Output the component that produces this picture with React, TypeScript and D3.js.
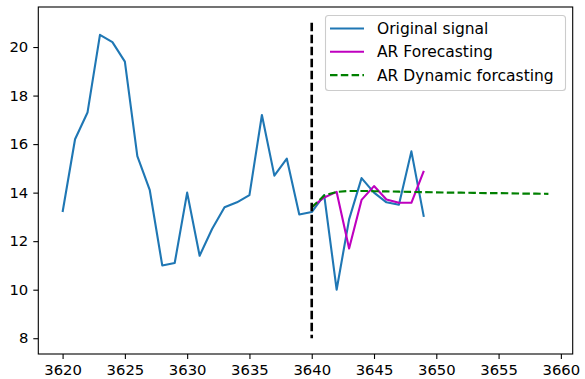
import React, { useEffect, useRef } from 'react';
import * as d3 from 'd3';

// original signal, 3620..3649
const signalX = d3.range(3620, 3650);
const signal = [
  13.2, 16.2, 17.3, 20.5, 20.2, 19.4, 15.5, 14.1, 11.0, 11.1,
  14.0, 11.4, 12.5, 13.4, 13.6, 13.9, 17.2, 14.7, 15.4, 13.1,
  13.2, 13.9, 10.0, 12.9, 14.6, 14.0, 13.6, 13.5, 15.7, 13.0,
];

// one-step AR forecast, 3640..3649
const forecastX = d3.range(3640, 3650);
const forecast = [13.4, 13.8, 14.03, 11.7, 13.7, 14.27, 13.72, 13.58, 13.58, 14.9];

// dynamic AR forecast, 3640..3659
const dynamicX = d3.range(3640, 3660);
const dynamic = [
  13.39, 13.88, 14.03, 14.07, 14.07, 14.06, 14.05, 14.04, 14.03, 14.02,
  14.01, 14.0, 14.0, 13.99, 13.98, 13.98, 13.97, 13.96, 13.96, 13.95,
];

const xTicks = [3620, 3625, 3630, 3635, 3640, 3645, 3650, 3655, 3660];
const yTicks = [8, 10, 12, 14, 16, 18, 20];
const splitAt = 3640;
const splitRange = [8, 21];

const legendItems = [
  { label: 'Original signal', color: '#1f77b4', dash: null },
  { label: 'AR Forecasting', color: '#bf00bf', dash: null },
  { label: 'AR Dynamic forcasting', color: '#008000', dash: '7.5,3.3' },
];

const W = 585;
const H = 379;
const FONT = 'DejaVu Sans, sans-serif';

const App = () => {
  const ref = useRef<SVGSVGElement>(null);

  useEffect(() => {
    const svg = d3.select(ref.current);
    svg.selectAll('*').remove();

    const left = 38.3, right = 572.7, top = 7, bottom = 354;
    const x = d3.scaleLinear().domain([3618.05, 3660.95]).range([left, right]);
    const y = d3.scaleLinear().domain([7.35, 21.65]).range([bottom, top]);

    const line = (xs: number[], ys: number[]) =>
      d3.line<number>().x((_, i) => x(xs[i])).y(d => y(d))(ys);

    svg.append('rect').attr('width', W).attr('height', H).attr('fill', '#fff');

    svg.append('path')
      .attr('d', line(signalX, signal))
      .attr('fill', 'none')
      .attr('stroke', '#1f77b4')
      .attr('stroke-width', 2.1)
      .attr('stroke-linejoin', 'round');

    svg.append('path')
      .attr('d', line(forecastX, forecast))
      .attr('fill', 'none')
      .attr('stroke', '#bf00bf')
      .attr('stroke-width', 2.1)
      .attr('stroke-linejoin', 'round');

    svg.append('path')
      .attr('d', line(dynamicX, dynamic))
      .attr('fill', 'none')
      .attr('stroke', '#008000')
      .attr('stroke-width', 2.1)
      .attr('stroke-dasharray', '7.5,3.3');

    svg.append('line')
      .attr('x1', x(splitAt)).attr('x2', x(splitAt))
      .attr('y1', y(splitRange[1])).attr('y2', y(splitRange[0]))
      .attr('stroke', '#000')
      .attr('stroke-width', 2.6)
      .attr('stroke-dasharray', '8.5,3.5');

    // axes
    const xAxis = svg.append('g')
      .attr('transform', `translate(0,${bottom})`)
      .call(d3.axisBottom(x).tickValues(xTicks).tickSize(5).tickPadding(5).tickFormat(d3.format('d')));
    const yAxis = svg.append('g')
      .attr('transform', `translate(${left},0)`)
      .call(d3.axisLeft(y).tickValues(yTicks).tickSize(5).tickPadding(5).tickFormat(d3.format('d')));
    [xAxis, yAxis].forEach(a => {
      a.select('.domain').remove();
      a.selectAll('line').attr('stroke', '#000').attr('stroke-width', 1.1);
      a.selectAll('text').attr('fill', '#000').style('font-family', FONT).style('font-size', '14.8px');
    });

    svg.append('rect')
      .attr('x', left).attr('y', top)
      .attr('width', right - left).attr('height', bottom - top)
      .attr('fill', 'none')
      .attr('stroke', '#000')
      .attr('stroke-width', 1.1);

    // legend
    const lg = svg.append('g');
    lg.append('rect')
      .attr('x', 325.5).attr('y', 15.5)
      .attr('width', 240).attr('height', 75)
      .attr('rx', 3)
      .attr('fill', '#fff').attr('fill-opacity', 0.8)
      .attr('stroke', '#ccc').attr('stroke-width', 1.1);
    legendItems.forEach((d, i) => {
      const ry = 28.5 + i * 23.3;
      lg.append('line')
        .attr('x1', 330).attr('x2', 364)
        .attr('y1', ry).attr('y2', ry)
        .attr('stroke', d.color)
        .attr('stroke-width', 2.1)
        .attr('stroke-dasharray', d.dash);
      lg.append('text')
        .attr('x', 377).attr('y', ry)
        .attr('dy', '0.35em')
        .style('font-family', FONT)
        .style('font-size', '15.5px')
        .text(d.label);
    });
  }, []);

  return (
    <svg ref={ref} width={W} height={H} style={{ position: 'absolute', left: 0, top: 0 }}></svg>
  );
};

export default App;
